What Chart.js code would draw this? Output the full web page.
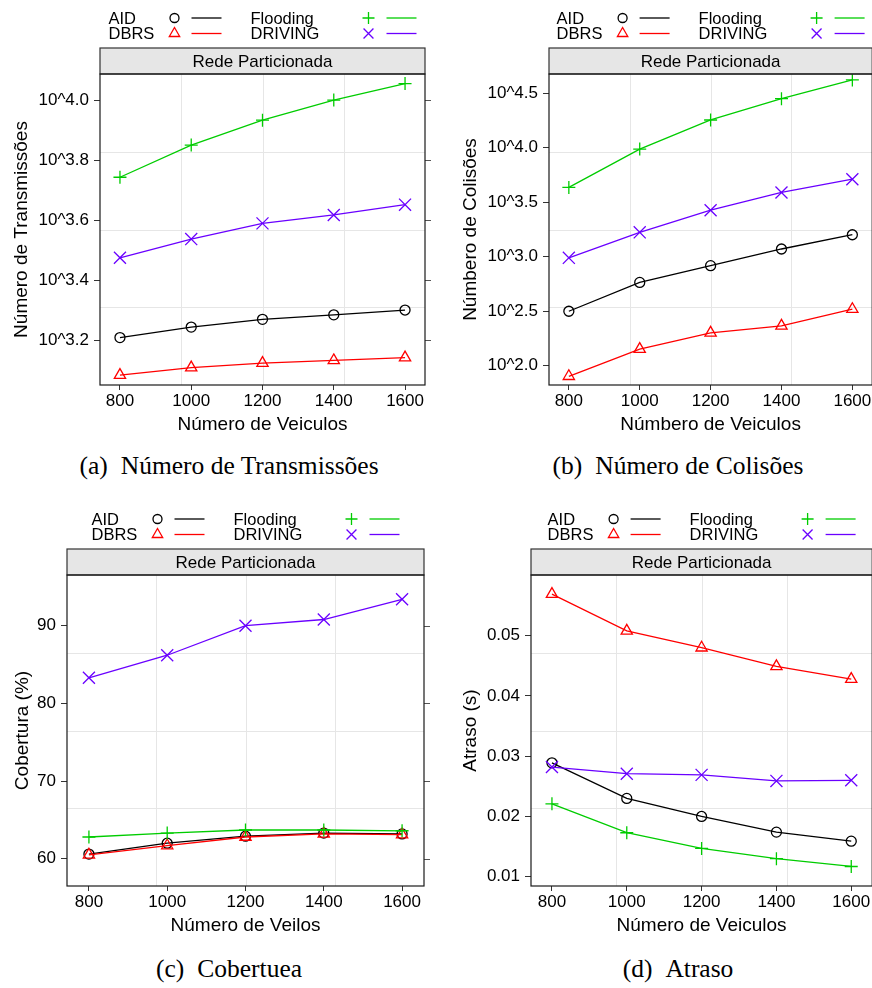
<!DOCTYPE html>
<html>
<head>
<meta charset="utf-8">
<script src="https://cdn.jsdelivr.net/npm/chart.js@4.4.1/dist/chart.umd.min.js"></script>
<style>
  html, body { margin: 0; padding: 0; background: #fff; }
  body { width: 872px; height: 988px; position: relative; overflow: hidden; }
  canvas { position: absolute; }
  .caption {
    position: absolute;
    font-family: "Liberation Serif", "Times New Roman", serif;
    font-size: 25.5px;
    line-height: 1;
    color: #000;
    white-space: nowrap;
    transform: translateX(-50%);
  }
  .caption span { margin-right: 13px; }
</style>
</head>
<body>
<canvas id="chartA" width="436" height="445" style="left:0;top:0"></canvas>
<canvas id="chartB" width="446" height="445" style="left:436px;top:0"></canvas>
<canvas id="chartC" width="436" height="445" style="left:0;top:501px"></canvas>
<canvas id="chartD" width="446" height="445" style="left:436px;top:501px"></canvas>

<div class="caption" style="left:229px;top:453px"><span>(a)</span>Número de Transmissões</div>
<div class="caption" style="left:678px;top:453px"><span>(b)</span>Número de Colisões</div>
<div class="caption" style="left:229px;top:956px"><span>(c)</span>Cobertuea</div>
<div class="caption" style="left:678px;top:956px"><span>(d)</span>Atraso</div>

<script>
// x values shared by all panels
const vehicles = [800, 1000, 1200, 1400, 1600];
const protocols = ['AID', 'DBRS', 'Flooding', 'DRIVING'];

// (a) Número de Transmissões (log10 axis)
const transAID = [1615, 1750, 1858, 1923, 1995];
const transDBRS = [1211, 1282, 1327, 1355, 1384];
const transFlooding = [5530, 7080, 8570, 10000, 11350];
const transDRIVING = [2980, 3440, 3880, 4140, 4480];
const transTickExp = [3.2, 3.4, 3.6, 3.8, 4.0];

// (b) Número de Colisões (log10 axis)
const colAID = [316, 581, 828, 1178, 1592];
const colDBRS = [80, 142, 200, 232, 330];
const colFlooding = [4325, 9730, 17990, 28250, 41980];
const colDRIVING = [977, 1675, 2673, 3890, 5150];
const colTickExp = [2.0, 2.5, 3.0, 3.5, 4.0, 4.5];

// (c) Cobertura (%)
const covAID = [60.6, 62.0, 62.9, 63.3, 63.2];
const covDBRS = [60.5, 61.7, 62.8, 63.2, 63.1];
const covFlooding = [62.8, 63.3, 63.7, 63.7, 63.6];
const covDRIVING = [83.3, 86.2, 90.0, 90.8, 93.4];
const covTicks = [60, 70, 80, 90];

// (d) Atraso (s)
const delAID = [0.0289, 0.0230, 0.0200, 0.0174, 0.0159];
const delDBRS = [0.0569, 0.0508, 0.0480, 0.0449, 0.0428];
const delFlooding = [0.0221, 0.0173, 0.0147, 0.0130, 0.0117];
const delDRIVING = [0.0282, 0.0271, 0.0269, 0.0259, 0.0260];
const delTicks = [0.01, 0.02, 0.03, 0.04, 0.05];

// styling (lattice look)
const colors = ['#000000', '#ff0000', '#00cc00', '#6a00ff'];
const markers = ['circle', 'triangle', 'cross', 'crossRot'];
const markerSize = [5, 6.5, 6.5, 8.5];
const legendSize = [4.5, 6, 6, 7];
const FONT = '"Liberation Sans", Arial, Helvetica, sans-serif';
Chart.defaults.font.family = FONT;

function drawMarker(ctx, style, x, y, r) {
  ctx.beginPath();
  if (style === 'circle') {
    ctx.arc(x, y, r, 0, Math.PI * 2);
  } else if (style === 'triangle') {
    for (let k = 0; k < 3; k++) {
      const a = k * Math.PI * 2 / 3;
      const px = x + Math.sin(a) * r, py = y - Math.cos(a) * r;
      if (k === 0) ctx.moveTo(px, py); else ctx.lineTo(px, py);
    }
    ctx.closePath();
  } else if (style === 'cross') {
    ctx.moveTo(x - r, y); ctx.lineTo(x + r, y);
    ctx.moveTo(x, y - r); ctx.lineTo(x, y + r);
  } else {
    const d = r * Math.SQRT1_2;
    ctx.moveTo(x - d, y - d); ctx.lineTo(x + d, y + d);
    ctx.moveTo(x - d, y + d); ctx.lineTo(x + d, y - d);
  }
  ctx.stroke();
}

// grid, box, strip and key the way lattice draws them
const latticePanel = {
  id: 'latticePanel',
  beforeDatasetsDraw(chart) {
    const { ctx, chartArea: a } = chart;
    ctx.save();
    ctx.strokeStyle = '#e6e6e6';
    ctx.lineWidth = 1;
    ctx.beginPath();
    for (let i = 1; i <= 3; i++) {
      const x = Math.round(a.left + a.width * i / 4) + 0.5;
      const y = Math.round(a.top + a.height * i / 4) + 0.5;
      ctx.moveTo(x, a.top); ctx.lineTo(x, a.bottom);
      ctx.moveTo(a.left, y); ctx.lineTo(a.right, y);
    }
    ctx.stroke();
    ctx.restore();
  },
  afterDraw(chart) {
    const { ctx, chartArea: a } = chart;
    const yScale = chart.scales.y;
    ctx.save();

    // right-side tick marks
    ctx.strokeStyle = '#555';
    ctx.lineWidth = 1;
    ctx.beginPath();
    yScale.ticks.forEach(t => {
      const py = Math.round(yScale.getPixelForValue(t.value)) + 0.5;
      ctx.moveTo(a.right, py); ctx.lineTo(a.right + 6, py);
    });
    ctx.stroke();

    // strip
    const stripH = 26;
    ctx.fillStyle = '#e6e6e6';
    ctx.fillRect(a.left, a.top - stripH, a.width, stripH);
    ctx.strokeStyle = '#333';
    ctx.lineWidth = 1.2;
    ctx.strokeRect(a.left, a.top - stripH, a.width, stripH);
    ctx.fillStyle = '#000';
    ctx.font = '17px ' + FONT;
    ctx.textAlign = 'center';
    ctx.textBaseline = 'middle';
    ctx.fillText('Rede Particionada', (a.left + a.right) / 2, a.top - stripH / 2 + 1);

    // panel box
    ctx.strokeStyle = '#1a1a1a';
    ctx.strokeRect(a.left, a.top, a.width, a.height);

    // key
    const cx = (a.left + a.right) / 2;
    const rows = [a.top - 56, a.top - 40.5];
    ctx.textAlign = 'left';
    ctx.font = '16.5px ' + FONT;
    protocols.forEach((name, i) => {
      const col = i < 2 ? 0 : 1;
      const y = rows[i % 2];
      const textX = cx + (col === 0 ? -154 : -12);
      const symX = cx + (col === 0 ? -88 : 106);
      const lineX = cx + (col === 0 ? -71 : 124);
      ctx.fillStyle = '#000';
      ctx.fillText(name, textX, y + 1);
      ctx.strokeStyle = colors[i];
      ctx.lineWidth = 1.3;
      drawMarker(ctx, markers[i], symX, y, legendSize[i]);
      ctx.beginPath();
      ctx.moveTo(lineX, y); ctx.lineTo(lineX + 30, y);
      ctx.stroke();
    });
    ctx.restore();
  }
};

function makeChart(id, cfg) {
  const datasets = cfg.series.map((vals, i) => ({
    label: protocols[i],
    data: vehicles.map((v, j) => ({ x: v, y: vals[j] })),
    borderColor: colors[i],
    backgroundColor: 'rgba(0,0,0,0)',
    borderWidth: 1.3,
    pointStyle: markers[i],
    pointRadius: markerSize[i],
    pointBorderColor: colors[i],
    pointBackgroundColor: 'rgba(0,0,0,0)',
    pointBorderWidth: 1.3,
    tension: 0,
    fill: false,
    order: 3 - i
  }));

  return new Chart(document.getElementById(id), {
    type: 'line',
    data: { datasets },
    options: {
      responsive: false,
      animation: false,
      layout: { padding: { top: 74, right: cfg.padRight, left: 0, bottom: 0 } },
      plugins: { legend: { display: false }, tooltip: { enabled: false } },
      scales: {
        x: {
          type: 'linear',
          min: 744, max: 1656,
          bounds: 'data',
          afterBuildTicks: s => { s.ticks = vehicles.map(v => ({ value: v })); },
          afterFit: s => { s.height = 60; },
          ticks: { autoSkip: false, maxRotation: 0, padding: 1, color: '#000',
                   font: { size: 17 }, callback: v => String(v) },
          grid: { drawOnChartArea: false, tickLength: 5, color: '#333' },
          border: { display: false },
          title: { display: true, text: cfg.xTitle, color: '#000',
                   font: { size: 19 }, padding: { top: 0, bottom: 9 } }
        },
        y: {
          type: cfg.yType,
          min: cfg.yMin, max: cfg.yMax,
          bounds: 'data',
          afterBuildTicks: s => { s.ticks = cfg.yTicks.map(v => ({ value: v })); },
          afterFit: s => { s.width = cfg.yWidth; },
          ticks: { autoSkip: false, padding: 5, color: '#000',
                   font: { size: 17 }, callback: cfg.yLabel },
          grid: { drawOnChartArea: false, tickLength: 6, color: '#333' },
          border: { display: false },
          title: { display: true, text: cfg.yTitle, color: '#000',
                   font: { size: 19 }, padding: { top: cfg.yTitlePad, bottom: 0 } }
        }
      }
    },
    plugins: [latticePanel]
  });
}

const logLabel = v => '10^' + Math.log10(v).toFixed(1);

makeChart('chartA', {
  series: [transAID, transDBRS, transFlooding, transDRIVING],
  yType: 'logarithmic',
  yMin: Math.pow(10, 3.05), yMax: Math.pow(10, 4.087),
  yTicks: transTickExp.map(e => Math.pow(10, e)),
  yLabel: logLabel,
  yWidth: 100, yTitlePad: 10, padRight: 11,
  yTitle: 'Número de Transmissões',
  xTitle: 'Número de Veiculos'
});

makeChart('chartB', {
  series: [colAID, colDBRS, colFlooding, colDRIVING],
  yType: 'logarithmic',
  yMin: Math.pow(10, 1.823), yMax: Math.pow(10, 4.677),
  yTicks: colTickExp.map(e => Math.pow(10, e)),
  yLabel: logLabel,
  yWidth: 113, yTitlePad: 23, padRight: 8,
  yTitle: 'Númbero de Colisões',
  xTitle: 'Númbero de Veiculos'
});

makeChart('chartC', {
  series: [covAID, covDBRS, covFlooding, covDRIVING],
  yType: 'linear',
  yMin: 56.49, yMax: 96.53,
  yTicks: covTicks,
  yLabel: v => String(v),
  yWidth: 67, yTitlePad: 11, padRight: 12,
  yTitle: 'Cobertura (%)',
  xTitle: 'Número de Veilos'
});

makeChart('chartD', {
  series: [delAID, delDBRS, delFlooding, delDRIVING],
  yType: 'linear',
  yMin: 0.00846, yMax: 0.06007,
  yTicks: delTicks,
  yLabel: v => v.toFixed(2),
  yWidth: 95, yTitlePad: 23, padRight: 8.6,
  yTitle: 'Atraso (s)',
  xTitle: 'Número de Veiculos'
});
</script>
</body>
</html>
